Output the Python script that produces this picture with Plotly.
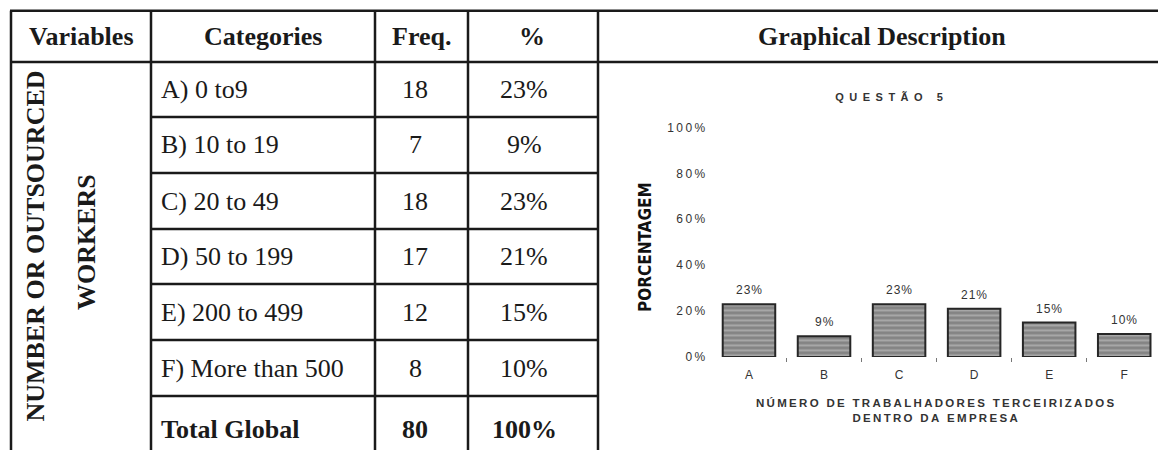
import plotly.graph_objects as go

# ---------------- data ----------------
headers = ["Variables", "Categories", "Freq.", "%", "Graphical Description"]
variable_lines = ["NUMBER OR OUTSOURCED", "WORKERS"]
categories = ["A) 0 to9", "B) 10 to 19", "C) 20 to 49", "D) 50 to 199",
              "E) 200 to 499", "F) More than 500"]
freq = [18, 7, 18, 17, 12, 8]
pct_text = ["23%", "9%", "23%", "21%", "15%", "10%"]
total_label = "Total Global"
total_freq = 80
total_pct = "100%"

bar_letters = ["A", "B", "C", "D", "E", "F"]
bar_pct = [23, 9, 23, 21, 15, 10]
bar_labels = ["23%", "9%", "23%", "21%", "15%", "10%"]
y_tick_vals = [0, 20, 40, 60, 80, 100]
y_tick_labels = ["0%", "20%", "40%", "60%", "80%", "100%"]
chart_title = "QUESTÃO 5"
x_title_lines = ["NÚMERO DE TRABALHADORES TERCEIRIZADOS", "DENTRO DA EMPRESA"]
y_title = "PORCENTAGEM"

# ---------------- layout helpers ----------------
W, H = 1158, 450


def px(x):
    return x / W


def py(y):
    return 1 - y / H


def spaced(s, sep):
    return sep.join(s)


SERIF = "Liberation Serif, Times New Roman, serif"
SANS = "Liberation Sans, Arial, sans-serif"
INK = "#1a1a1a"
CHART_INK = "#333333"

col_x = [11, 151, 375, 468, 598]
top_y, head_y, bottom_y = 10.7, 62, 452
row_edges = [62, 117, 173, 229, 284, 340, 396, 452]

fig = go.Figure()

# ---------------- chart ----------------
fig.add_trace(go.Bar(
    x=bar_letters, y=bar_pct, width=0.7,
    marker=dict(
        color="#8a8a8a",
        line=dict(color="#262626", width=2),
        pattern=dict(shape="-", fillmode="replace", bgcolor="#848484",
                     fgcolor="#a9a9a9", size=5, solidity=0.4),
    ),
    hoverinfo="skip", showlegend=False,
))

annotations = []
for letter, v, lab in zip(bar_letters, bar_pct, bar_labels):
    annotations.append(dict(
        x=letter, y=v, xref="x", yref="y", text=spaced(lab, "\u200a"),
        showarrow=False, yanchor="bottom", yshift=5,
        font=dict(family=SANS, size=12, color=CHART_INK),
    ))

# y axis title
annotations.append(dict(
    x=px(645), y=py(247), xref="paper", yref="paper",
    text="<b>" + y_title + "</b>", textangle=-90, showarrow=False,
    xanchor="center", yanchor="middle",
    font=dict(family="DejaVu Sans Condensed, Liberation Sans Narrow, DejaVu Sans",
              size=17, color="#111111"),
))

# ---------------- table lines ----------------
shapes = []
line_style = dict(color=INK, width=2.5)
for yy in (top_y, head_y):
    shapes.append(dict(type="line", xref="paper", yref="paper",
                       x0=px(col_x[0] - 1), x1=1, y0=py(yy), y1=py(yy),
                       line=line_style))
for yy in row_edges[1:-1]:
    shapes.append(dict(type="line", xref="paper", yref="paper",
                       x0=px(col_x[1]), x1=px(col_x[-1]), y0=py(yy), y1=py(yy),
                       line=line_style))
for xx in col_x:
    shapes.append(dict(type="line", xref="paper", yref="paper",
                       x0=px(xx), x1=px(xx), y0=py(top_y), y1=py(bottom_y),
                       line=line_style))

# ---------------- table text ----------------
header_x = [81, 263, 421.5, 532, 882]
for hx, txt in zip(header_x, headers):
    annotations.append(dict(
        x=px(hx), y=py(37), xref="paper", yref="paper",
        text="<b>" + txt + "</b>", showarrow=False,
        xanchor="center", yanchor="middle",
        font=dict(family=SERIF, size=26, color=INK),
    ))

row_centers = [(row_edges[i] + row_edges[i + 1]) / 2 for i in range(len(row_edges) - 1)]
for i, (cat, f, p) in enumerate(zip(categories, freq, pct_text)):
    yc = row_centers[i]
    annotations.append(dict(x=px(159), y=py(yc), xref="paper", yref="paper",
                            text=cat, showarrow=False, xanchor="left", yanchor="middle",
                            font=dict(family=SERIF, size=26, color=INK)))
    annotations.append(dict(x=px(415), y=py(yc), xref="paper", yref="paper",
                            text=str(f), showarrow=False, xanchor="center", yanchor="middle",
                            font=dict(family=SERIF, size=26, color=INK)))
    annotations.append(dict(x=px(524), y=py(yc), xref="paper", yref="paper",
                            text=p, showarrow=False, xanchor="center", yanchor="middle",
                            font=dict(family=SERIF, size=26, color=INK)))

yt = 429
annotations.append(dict(x=px(159), y=py(yt), xref="paper", yref="paper",
                        text="<b>" + total_label + "</b>", showarrow=False,
                        xanchor="left", yanchor="middle",
                        font=dict(family=SERIF, size=26, color=INK)))
annotations.append(dict(x=px(415), y=py(yt), xref="paper", yref="paper",
                        text="<b>" + str(total_freq) + "</b>", showarrow=False,
                        xanchor="center", yanchor="middle",
                        font=dict(family=SERIF, size=26, color=INK)))
annotations.append(dict(x=px(524), y=py(yt), xref="paper", yref="paper",
                        text="<b>" + total_pct + "</b>", showarrow=False,
                        xanchor="center", yanchor="middle",
                        font=dict(family=SERIF, size=26, color=INK)))

# vertical variable label
for vx, vy, txt in zip([35.5, 86], [246, 242], variable_lines):
    annotations.append(dict(x=px(vx), y=py(vy), xref="paper", yref="paper",
                            text="<b>" + txt + "</b>", textangle=-90, showarrow=False,
                            xanchor="center", yanchor="middle",
                            font=dict(family=SERIF, size=26, color=INK)))

fig.update_layout(
    width=W, height=H,
    margin=dict(l=0, r=0, t=0, b=0, autoexpand=False),
    paper_bgcolor="white", plot_bgcolor="white",
    showlegend=False,
    title=dict(text="<b>" + spaced(chart_title, "\u2002") + "</b>",
               x=px(889), y=py(97), xref="paper", yref="paper",
               xanchor="center", yanchor="middle",
               font=dict(family=SANS, size=11, color=CHART_INK)),
    xaxis=dict(
        domain=[px(712.2), 1.0], range=[-0.49, 5.45], type="category",
        automargin=False,
        showgrid=False, zeroline=False, showline=False,
        ticks="outside", tickson="boundaries", ticklen=4, tickwidth=1,
        tickcolor="#777777",
        ticklabelstandoff=9,
        tickfont=dict(family=SANS, size=12, color=CHART_INK),
        title=dict(
            text="<b>" + "<br>".join(spaced(t, "\u2009") for t in x_title_lines) + "</b>",
            font=dict(family=SANS, size=11.5, color=CHART_INK),
            standoff=17,
        ),
        fixedrange=True,
    ),
    yaxis=dict(
        domain=[py(357), py(122.9)], range=[0, 102],
        automargin=False,
        tickvals=y_tick_vals,
        ticktext=[spaced(t, "\u2009") for t in y_tick_labels],
        showgrid=False, zeroline=False, showline=False, ticks="",
        ticklabelstandoff=6,
        tickfont=dict(family=SANS, size=12, color=CHART_INK),
        fixedrange=True,
    ),
    shapes=shapes,
    annotations=annotations,
)

fig.write_html("out.html")
